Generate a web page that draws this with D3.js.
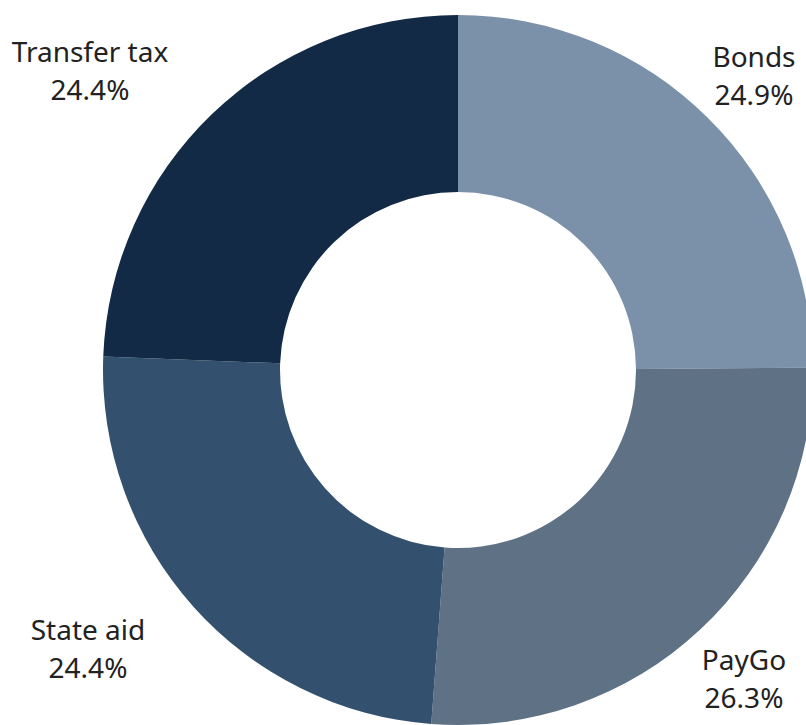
<!DOCTYPE html>
<html>
<head>
<meta charset="utf-8">
<script src="https://cdn.jsdelivr.net/npm/d3@7/dist/d3.min.js"></script>
<style>
  html, body { margin: 0; padding: 0; background: #fff; overflow: hidden; }
  svg { display: block; }
  .lbl { font-family: "Noto Sans", sans-serif; font-size: 28px; fill: #222; }
</style>
</head>
<body>
<svg id="chart" width="806" height="725"></svg>
<script>
// data, clockwise from 12 o'clock
var categories = [ "Bonds", "PayGo", "State aid", "Transfer tax" ];
var shares = [ 24.9, 26.3, 24.4, 24.4 ];
var colors = [ "#7a91a9", "#5e7185", "#33516e", "#122a45" ];

var svg = d3.select( "#chart" ),
    cx = 458, cy = 370,
    outerR = 355, innerR = 178;

var pie = d3.pie().sort( null ).value( function( d ) { return d; } );
var arc = d3.arc().innerRadius( innerR ).outerRadius( outerR );

var g = svg.append( "g" ).attr( "transform", "translate(" + cx + "," + cy + ")" );

var arcs = pie( shares );

g.selectAll( "path" )
    .data( arcs )
    .enter()
    .append( "path" )
    .attr( "d", arc )
    .attr( "fill", function( d, i ) { return colors[ i ]; } );

// label anchors sit outside the ring, at each slice's outer corner
var labelPos = [
    { x: 754, y: 67 },
    { x: 744, y: 670 },
    { x: 88,  y: 640 },
    { x: 90,  y: 62 }
];

var labels = svg.selectAll( "g.label" )
    .data( arcs )
    .enter()
    .append( "g" )
    .attr( "class", "label" );

labels.append( "text" )
    .attr( "class", "lbl" )
    .attr( "text-anchor", "middle" )
    .attr( "x", function( d, i ) { return labelPos[ i ].x; } )
    .attr( "y", function( d, i ) { return labelPos[ i ].y; } )
    .text( function( d, i ) { return categories[ i ]; } );

labels.append( "text" )
    .attr( "class", "lbl" )
    .attr( "text-anchor", "middle" )
    .attr( "x", function( d, i ) { return labelPos[ i ].x; } )
    .attr( "y", function( d, i ) { return labelPos[ i ].y + 38; } )
    .text( function( d ) { return d.value.toFixed( 1 ) + "%"; } );
</script>
</body>
</html>
